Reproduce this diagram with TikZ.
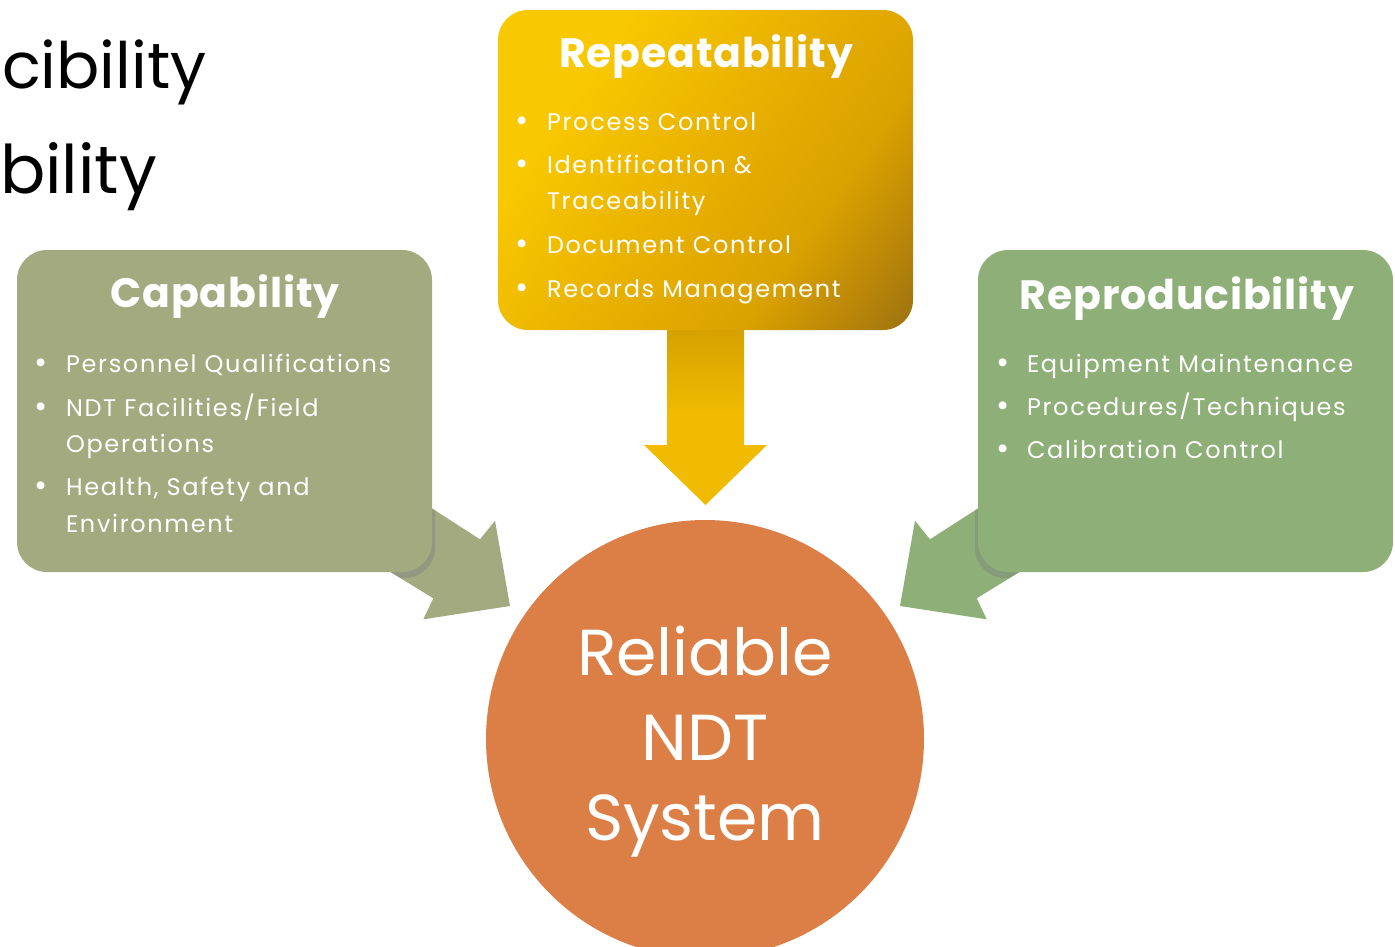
\documentclass[tikz,border=0pt]{standalone}
\usepackage{fontspec}
\setmainfont{Poppins}
\definecolor{sage}{HTML}{A3AA80}
\definecolor{leaf}{HTML}{8FAF78}
\definecolor{clay}{HTML}{DC7F46}
\definecolor{goldA}{HTML}{F8C800}
\definecolor{goldB}{HTML}{E8B000}
\definecolor{goldD}{HTML}{DAA200}
\definecolor{goldE}{HTML}{BC8808}
\definecolor{goldC}{HTML}{9E7410}
\definecolor{amber}{HTML}{F0BB00}
\definecolor{amberdark}{HTML}{D39E00}
\definecolor{shadowgray}{HTML}{6E7180}
% diagonal fill of the Repeatability panel
\pgfdeclarehorizontalshading{goldfade}{100bp}{color(0bp)=(goldA); color(30bp)=(goldA);
  color(50bp)=(goldB); color(66bp)=(goldD); color(76bp)=(goldE); color(84bp)=(goldC); color(100bp)=(goldC)}
\begin{document}
\begin{tikzpicture}[x=1pt,y=-1pt,
  every node/.style={inner sep=0pt,outer sep=0pt},
  panel/.style={rounded corners=30pt,minimum width=#1,minimum height=322pt,anchor=north west},
  headline/.style={anchor=base,text=white,font=\fontsize{41}{41}\selectfont\bfseries\addfontfeatures{LetterSpace=2}},
  itemtext/.style={anchor=base west,text=white,font=\fontsize{24}{24}\selectfont\addfontfeatures{LetterSpace=7}},
  dotmark/.style={anchor=base,text=white,font=\fontsize{32}{32}\selectfont},
  bigword/.style={anchor=base,text=white,font=\fontsize{65}{65}\selectfont},
  backword/.style={text=black,font=\fontsize{64}{64}\selectfont}]
\useasboundingbox (0,0) rectangle (1395,946);
\clip (0,0) rectangle (1395,946);
\fill[white] (0,0) rectangle (1395,946);

% words of the slide behind
\node[backword,anchor=base west] (back1) at (2,88) {cibility};
\node[backword,anchor=base east,font=\fontsize{67}{67}\selectfont] (back2) at (157,193) {bility};

% central circle
\node[circle,fill=clay,minimum size=438pt] (sys) at (705,739) {};

% block arrows pointing at the circle
\fill[sage] (340,541) -- (380,475) -- (480,539.3) -- (495,520.7) -- (510,606)
  -- (423.3,619.3) -- (433.3,598.3) -- (390,571.7) -- cycle;
\fill[leaf] (1070,541) -- (1030,475) -- (930,539.3) -- (915,520.7) -- (900,606)
  -- (986.7,619.3) -- (976.7,598.3) -- (1020,571.7) -- cycle;
\shade[top color=amberdark,bottom color=amber,middle color=amber]
  (667,320) -- (744,320) -- (744,445) -- (767,445) -- (705.5,505) -- (644,445) -- (667,445) -- cycle;

% soft shadows where panels overlap the arrows
\begin{scope}
  \clip (340,541) -- (380,475) -- (480,539.3) -- (495,520.7) -- (510,606)
    -- (423.3,619.3) -- (433.3,598.3) -- (390,571.7) -- cycle;
  \fill[shadowgray,opacity=0.3,rounded corners=30pt] (19,254) rectangle (435,578);
\end{scope}
\begin{scope}
  \clip (1070,541) -- (1030,475) -- (930,539.3) -- (915,520.7) -- (900,606)
    -- (986.7,619.3) -- (976.7,598.3) -- (1020,571.7) -- cycle;
  \fill[shadowgray,opacity=0.3,rounded corners=30pt] (975,254) rectangle (1391,578);
\end{scope}

% panels
\node[panel=415pt,fill=sage] (cap) at (17,250) {};
\node[panel=415pt,fill=leaf] (rep) at (978,250) {};
\shade[rounded corners=30pt,shading=goldfade,shading angle=-35]
  (498,10) rectangle (913,330);
\node[panel=415pt,minimum height=320pt] (rpt) at (498,10) {};

% Repeatability panel
\node[headline] (rptT) at (706,67) {Repeatability};
\node[dotmark] (rptD1) at (522,131) {•};
\node[itemtext] (rptI1) at (547,130) {Process Control};
\node[dotmark] (rptD2) at (522,174) {•};
\node[itemtext] (rptI2) at (547,173) {Identification \&};
\node[itemtext] (rptI2b) at (547,209) {Traceability};
\node[dotmark] (rptD3) at (522,254) {•};
\node[itemtext] (rptI3) at (547,253) {Document Control};
\node[dotmark] (rptD4) at (522,298) {•};
\node[itemtext] (rptI4) at (547,297) {Records Management};

% Capability panel
\node[headline] (capT) at (225,307) {Capability};
\node[dotmark] (capD1) at (41,373) {•};
\node[itemtext] (capI1) at (66,372) {Personnel Qualifications};
\node[dotmark] (capD2) at (41,417) {•};
\node[itemtext] (capI2) at (66,416) {NDT Facilities/Field};
\node[itemtext] (capI2b) at (66,452) {Operations};
\node[dotmark] (capD3) at (41,496) {•};
\node[itemtext] (capI3) at (66,495) {Health, Safety and};
\node[itemtext] (capI3b) at (66,532) {Environment};

% Reproducibility panel
\node[headline] (repT) at (1187,309) {Reproducibility};
\node[dotmark] (repD1) at (1003,373) {•};
\node[itemtext] (repI1) at (1027,372) {Equipment Maintenance};
\node[dotmark] (repD2) at (1003,416) {•};
\node[itemtext] (repI2) at (1027,415) {Procedures/Techniques};
\node[dotmark] (repD3) at (1003,459) {•};
\node[itemtext] (repI3) at (1027,458) {Calibration Control};

% circle text
\node[bigword] (sysA) at (705,675) {Reliable};
\node[bigword] (sysB) at (705,760) {NDT};
\node[bigword] (sysC) at (705,840) {System};
\end{tikzpicture}
\end{document}
